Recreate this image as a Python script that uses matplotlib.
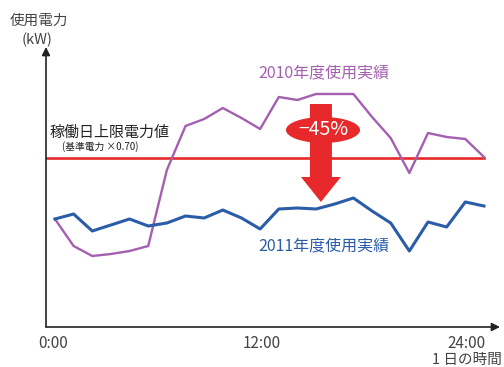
import matplotlib
matplotlib.use("Agg")
import matplotlib.pyplot as plt
from matplotlib.patches import FancyArrow, Ellipse

plt.rcParams['font.family'] = ['Noto Sans CJK JP', 'DejaVu Sans']

# hourly samples (relative usage, no units on the chart)
hours = list(range(24))
use_2010 = [108, 81, 71, 73, 76, 81, 157, 201, 208, 219, 209, 198,
            230, 227, 233, 233, 233, 210, 189, 154, 194, 190, 188, 170]
use_2011 = [108, 113, 96, 102, 108, 101, 104, 111, 109, 117, 109, 98,
            118, 119, 118, 123, 129, 116, 104, 76, 105, 100, 125, 121]
limit = 169
tick_pos = [-0.1, 11.1, 22.05]
tick_labels = ['0:00', '12:00', '24:00']

purple = '#a45fb0'
blue = '#2b5ca8'
red = '#e8292b'

W, H = 504, 367
fig = plt.figure(figsize=(W / 100, H / 100), dpi=100)
ax = fig.add_axes([46 / W, 1 - 327 / H, (500 - 46) / W, (327 - 47) / H])
ax.set_xlim(-0.48, 23.86)
ax.set_ylim(0, 280)

for s in ax.spines.values():
    s.set_visible(False)
ax.set_yticks([])
ax.set_xticks(tick_pos)
ax.set_xticklabels(tick_labels, fontsize=11, color='#444444')
ax.tick_params(axis='x', length=0, pad=6)

# axes with arrow heads
ax.annotate('', xy=(1, 0), xytext=(0, 0), xycoords='axes fraction',
            arrowprops=dict(arrowstyle='-|>', color='#222222', lw=1.2,
                            mutation_scale=12, shrinkA=0, shrinkB=0))
ax.annotate('', xy=(0, 1), xytext=(0, 0), xycoords='axes fraction',
            arrowprops=dict(arrowstyle='-|>', color='#222222', lw=1.2,
                            mutation_scale=12, shrinkA=0, shrinkB=0))

# limit line
ax.plot([-0.48, 23], [limit, limit], color=red, lw=1.9, zorder=2)

ax.plot(hours, use_2010, color=purple, lw=1.7, zorder=3)
ax.plot(hours, use_2011, color=blue, lw=2.2, zorder=3)

# reduction arrow
arr = FancyArrow(14.26, 223, 0, -98, width=1.18, head_width=2.14,
                 head_length=25, length_includes_head=True,
                 color=red, lw=0, zorder=4)
ax.add_patch(arr)
ax.add_patch(Ellipse((14.37, 197), 3.97, 26, color=red, lw=0, zorder=5))
ax.text(14.37, 197, '−45%', color='white', fontsize=14,
        ha='center', va='center', zorder=6)


def ftext(px, py, s, **kw):
    fig.text(px / W, 1 - py / H, s, **kw)


ftext(39, 21, '使用電力', fontsize=10.5, color='#444444', ha='center', va='center')
ftext(37, 40, '(kW)', fontsize=10.5, color='#444444', ha='center', va='center')
ftext(50, 133, '稼働日上限電力値', fontsize=10.8, color='#222222', ha='left', va='center')
ftext(62, 147, '(基準電力 ×0.70)', fontsize=7, color='#222222', ha='left', va='center')
ftext(258, 73, '2010年度使用実績', fontsize=11.5, color=purple, ha='left', va='center')
ftext(258, 246, '2011年度使用実績', fontsize=11.5, color=blue, ha='left', va='center')
ftext(432, 360, '1 日の時間', fontsize=10.5, color='#444444', ha='left', va='center')

fig.savefig('out.png', dpi=100)
